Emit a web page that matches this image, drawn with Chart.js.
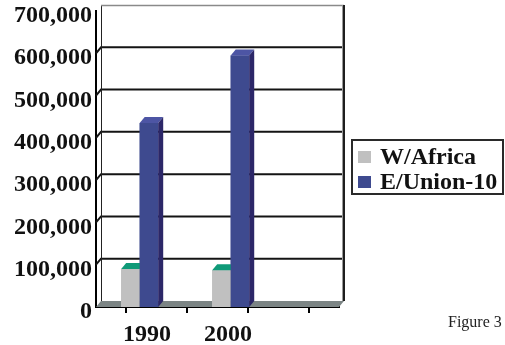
<!DOCTYPE html>
<html>
<head>
<meta charset="utf-8">
<style>
  html, body { margin: 0; padding: 0; background: #fff; }
  #wrap { width: 505px; height: 345px; position: relative; }
</style>
<script src="https://cdn.jsdelivr.net/npm/chart.js@4/dist/chart.umd.min.js"></script>
</head>
<body>
<div id="wrap"><canvas id="chart"></canvas></div>
<script>
// Category labels shown under the floor (the last slot is left empty)
const categories = ['1990', '2000', ''];
// Years the bars stand on
const years = [1990, 2000];
// Series values
const wAfrica = [90000, 87000];
const eUnion = [435000, 595000];
// Value axis
const yMax = 700000;
const yStep = 100000;
// Slots marked by the small tick marks under the floor
const tickSlots = ['', '', '', '', ''];
const seriesNames = ['W/Africa', 'E/Union-10'];
const caption = 'Figure 3';

// Depth of the box: the back wall sits up and to the right of the front plane
const DX = 5, DY = -6;
const SERIF = '"Liberation Serif", "Times New Roman", serif';

const faces = [
  { front: '#c0c0c0', top: '#0f9a78', side: '#8d8d8d' },
  { front: '#3e4a8f', top: '#4d55a4', side: '#2c2768' }
];

// Back wall, side wall gridlines and the floor, drawn under the bars
const room3d = {
  id: 'room3d',
  beforeDatasetsDraw(chart) {
    const { ctx, chartArea: a, scales: { y } } = chart;
    ctx.save();
    // back wall
    ctx.fillStyle = '#ffffff';
    ctx.fillRect(a.left + DX, a.top + DY, a.right - a.left, a.bottom - a.top);
    // gridlines on the back wall, continued diagonally along the side wall
    ctx.strokeStyle = '#141414';
    ctx.lineWidth = 2;
    y.ticks.forEach(t => {
      if (t.value <= 0 || t.value >= yMax) return;
      const py = y.getPixelForValue(t.value);
      ctx.beginPath();
      ctx.moveTo(a.left, py);
      ctx.lineTo(a.left + DX, py + DY);
      ctx.lineTo(a.right + DX, py + DY);
      ctx.stroke();
    });
    // wall outline
    ctx.lineWidth = 1;
    ctx.strokeStyle = '#222';
    ctx.beginPath();
    ctx.moveTo(a.left + DX + 0.5, a.bottom + DY);
    ctx.lineTo(a.left + DX + 0.5, a.top + DY + 0.5);
    ctx.stroke();
    ctx.strokeStyle = '#8a8a8a';
    ctx.lineWidth = 1.5;
    ctx.beginPath();
    ctx.moveTo(a.left + DX, a.top + DY + 0.5);
    ctx.lineTo(a.right + DX, a.top + DY + 0.5);
    ctx.stroke();
    ctx.strokeStyle = '#9a9a9a';
    ctx.lineWidth = 1;
    ctx.beginPath();
    ctx.moveTo(a.right + DX - 1.5, a.top + DY);
    ctx.lineTo(a.right + DX - 1.5, a.bottom + DY);
    ctx.stroke();
    ctx.strokeStyle = '#1e1e1e';
    ctx.lineWidth = 2;
    ctx.beginPath();
    ctx.moveTo(a.right + DX, a.top + DY);
    ctx.lineTo(a.right + DX, a.bottom + DY);
    ctx.stroke();
    // floor
    ctx.fillStyle = '#7c8585';
    ctx.beginPath();
    ctx.moveTo(a.left, a.bottom);
    ctx.lineTo(a.right, a.bottom);
    ctx.lineTo(a.right + DX, a.bottom + DY);
    ctx.lineTo(a.left + DX, a.bottom + DY);
    ctx.closePath();
    ctx.fill();
    ctx.restore();
  },
  afterDatasetsDraw(chart) {
    const { ctx } = chart;
    ctx.save();
    chart.data.datasets.forEach((ds, i) => {
      const meta = chart.getDatasetMeta(i);
      const f = faces[i];
      meta.data.forEach(el => {
        el.draw(ctx);
        const { x, y, base, width } = el.getProps(['x', 'y', 'base', 'width'], true);
        const l = x - width / 2, r = x + width / 2;
        // top face
        ctx.fillStyle = f.top;
        ctx.beginPath();
        ctx.moveTo(l, y);
        ctx.lineTo(r, y);
        ctx.lineTo(r + DX, y + DY);
        ctx.lineTo(l + DX, y + DY);
        ctx.closePath();
        ctx.fill();
        // side face
        ctx.fillStyle = f.side;
        ctx.beginPath();
        ctx.moveTo(r, y);
        ctx.lineTo(r + DX, y + DY);
        ctx.lineTo(r + DX, base + DY);
        ctx.lineTo(r, base);
        ctx.closePath();
        ctx.fill();
      });
    });
    ctx.restore();
  },
  afterDraw(chart) {
    const { ctx } = chart;
    ctx.save();
    // legend box
    ctx.strokeStyle = '#2a2a2a';
    ctx.lineWidth = 2;
    ctx.strokeRect(352, 140, 151, 54);
    ctx.font = 'bold 24px ' + SERIF;
    ctx.textBaseline = 'middle';
    ctx.textAlign = 'left';
    chart.data.datasets.forEach((ds, i) => {
      const cy = 158 + i * 25;
      ctx.fillStyle = ds.backgroundColor;
      ctx.fillRect(358, cy - 7, 13, 12);
      ctx.fillStyle = '#111';
      ctx.fillText(ds.label, 380, cy);
    });
    // caption
    ctx.font = '16px ' + SERIF;
    ctx.fillStyle = '#222';
    ctx.fillText(caption, 448, 323);
    ctx.restore();
  }
};

new Chart(document.getElementById('chart'), {
  type: 'bar',
  data: {
    datasets: [
      {
        label: seriesNames[0],
        data: years.map((yr, i) => ({ x: yr, y: wAfrica[i] })),
        backgroundColor: faces[0].front,
        xAxisID: 'xb'
      },
      {
        label: seriesNames[1],
        data: years.map((yr, i) => ({ x: yr, y: eUnion[i] })),
        backgroundColor: faces[1].front,
        xAxisID: 'xb'
      }
    ]
  },
  options: {
    responsive: true,
    maintainAspectRatio: false,
    animation: false,
    events: [],
    barPercentage: 1,
    categoryPercentage: 0.407,
    layout: { padding: { left: 10, right: 166, top: 11, bottom: 0 } },
    plugins: { legend: { display: false }, tooltip: { enabled: false } },
    scales: {
      xb: {
        type: 'linear',
        display: false,
        offset: false,
        min: 1985.2,
        max: 2011.9,
        afterBuildTicks: s => { s.ticks = years.map(v => ({ value: v })); }
      },
      xt: {
        type: 'category',
        labels: tickSlots,
        position: 'bottom',
        weight: 0,
        offset: false,
        grid: { drawOnChartArea: false, drawTicks: true, tickLength: 6, color: '#000', lineWidth: 2 },
        border: { display: true, color: '#000', width: 2 },
        ticks: { display: false },
        afterFit: s => { s.height = 6; }
      },
      x: {
        type: 'category',
        labels: categories,
        position: 'bottom',
        weight: 1,
        offset: true,
        grid: { display: false, drawTicks: false },
        border: { display: false },
        ticks: {
          padding: 10,
          labelOffset: 10.5,
          maxRotation: 0,
          autoSkip: false,
          color: '#111',
          font: { family: SERIF, size: 24, weight: 'bold', lineHeight: 1 }
        },
        afterFit: s => { s.height = 32; }
      },
      y: {
        min: 0,
        max: yMax,
        grid: { display: false, drawTicks: false },
        border: { display: true, color: '#000', width: 2 },
        ticks: {
          stepSize: yStep,
          padding: 4,
          labelOffset: 5,
          color: '#111',
          font: { family: SERIF, size: 24, weight: 'bold', lineHeight: 1 },
          callback: v => v.toLocaleString('en-US')
        },
        afterFit: s => { s.paddingTop = 0; s.paddingBottom = 0; }
      }
    }
  },
  plugins: [room3d]
});
</script>
</body>
</html>
